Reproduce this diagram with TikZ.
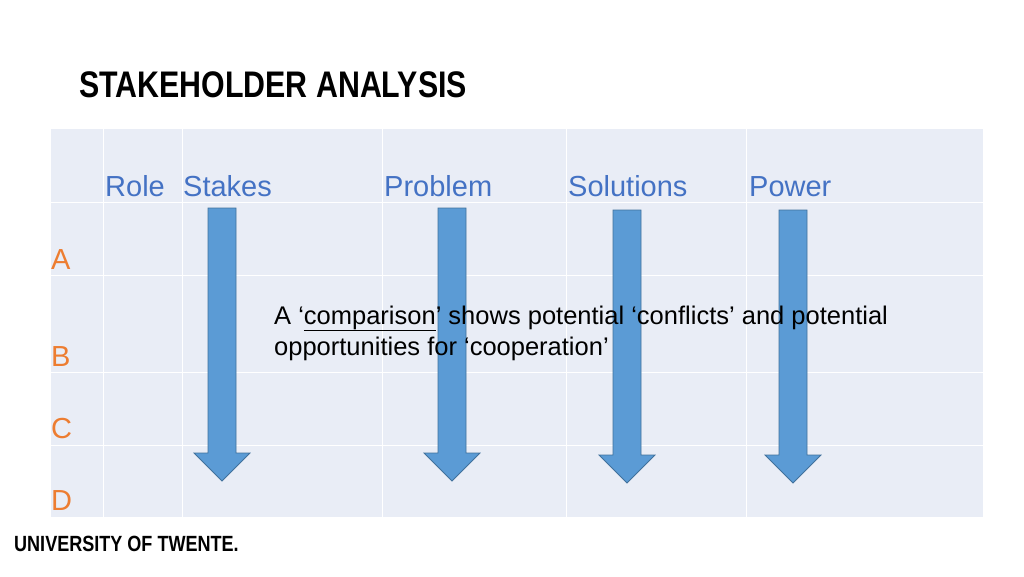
\documentclass[tikz,border=0pt]{standalone}
\usepackage{fontspec}
\setmainfont{Liberation Sans}
\usetikzlibrary{positioning}
\definecolor{gridbg}{HTML}{E9EDF6}
\definecolor{headblue}{HTML}{4472C4}
\definecolor{rowor}{HTML}{ED7D31}
\definecolor{arrfill}{HTML}{5B9BD5}
\definecolor{arrline}{HTML}{41719C}
\tikzset{
  colhead/.style={anchor=base west,text=headblue,font=\fontsize{29}{34}\selectfont,inner sep=0pt},
  rowlab/.style={anchor=base west,text=rowor,font=\fontsize{29}{34}\selectfont,inner sep=0pt},
  downarrow/.style={fill=arrfill,draw=arrline,line width=0.8pt}
}
\newcommand{\blockarrow}[3]{% x, top, tip
  \draw[downarrow] (#1-14,#2) -- (#1+14,#2) -- (#1+14,#3-28) -- (#1+28,#3-28)
    -- (#1,#3) -- (#1-28,#3-28) -- (#1-14,#3-28) -- cycle;}
\begin{document}
\begin{tikzpicture}[x=1pt,y=-1pt]
\useasboundingbox (0,0) rectangle (1024,576);
% table
\fill[gridbg] (50,128) rectangle (983,517);
\foreach \x in {50,103,182,382,566,746,983}
  \draw[white,line width=1pt] (\x,128) -- (\x,517);
\foreach \y in {128,202,275,372,445,517}
  \draw[white,line width=1pt] (50,\y) -- (983,\y);
% title
\node[anchor=base west,inner sep=0pt] (title) at (79,97)
  {\scalebox{0.82}[1]{\fontsize{37}{42}\selectfont\bfseries STAKEHOLDER ANALYSIS}};
% column heads
\node[colhead] (role) at (105,196) {Role};
\node[colhead] (stakes) at (183,196) {Stakes};
\node[colhead] (problem) at (384,196) {Problem};
\node[colhead] (solutions) at (568,196) {Solutions};
\node[colhead] (power) at (749,196) {Power};
% rows
\node[rowlab] (ra) at (51,269) {A};
\node[rowlab] (rb) at (51,366) {B};
\node[rowlab] (rc) at (51,438) {C};
\node[rowlab] (rd) at (51,510) {D};
% arrows
\blockarrow{222}{208}{481}
\blockarrow{452}{208}{481}
\blockarrow{627}{210}{483}
\blockarrow{793}{210}{483}
% note
\node[anchor=base west,inner sep=0pt,align=left,font=\fontsize{25.5}{31}\selectfont] (note) at (274,355)
  {A ‘\underline{comparison}’ shows potential ‘conflicts’ and potential\\opportunities for ‘cooperation’};
% footer
\node[anchor=base west,inner sep=0pt] (uni) at (14,551)
  {\scalebox{0.82}[1]{\fontsize{22}{26}\selectfont\bfseries UNIVERSITY OF TWENTE.}};
\end{tikzpicture}
\end{document}
